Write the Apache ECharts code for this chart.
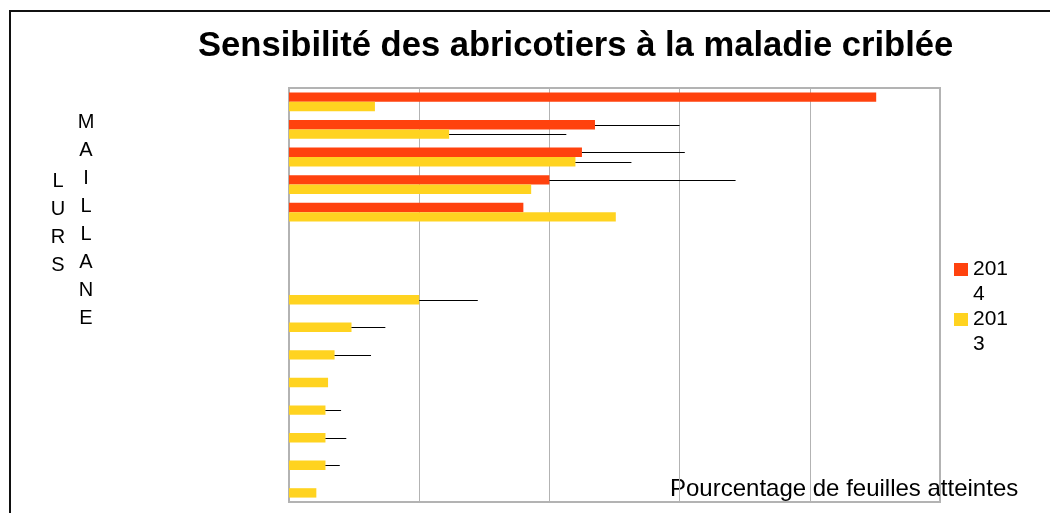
<!DOCTYPE html>
<html>
<head>
<meta charset="utf-8">
<script src="https://cdn.jsdelivr.net/npm/echarts@6/dist/echarts.min.js"></script>
<style>
  html, body { margin: 0; padding: 0; background: #fff; }
  #chart { width: 1050px; height: 513px; }
</style>
</head>
<body>
<div id="chart"></div>
<script>
// rows from top to bottom (variety names are not shown on the chart)
const categories = ['v1', 'v2', 'v3', 'v4', 'v5', 'v6', 'v7', 'v8', 'v9', 'v10', 'v11', 'v12', 'v13', 'v14', 'v15']
const values2014 = [45.1, 23.5, 22.5, 20.0, 18.0, null, null, null, null, null, null, null, null, null, null]
const values2013 = [6.6, 12.3, 22.0, 18.6, 25.1, null, null, 10.0, 4.8, 3.5, 3.0, 2.8, 2.8, 2.8, 2.1]
const errors2014 = [null, 6.5, 7.9, 14.3, null, null, null, null, null, null, null, null, null, null, null]
const errors2013 = [null, 9.0, 4.3, null, null, null, null, 4.5, 2.6, 2.8, null, 1.2, 1.6, 1.1, null]
const seriesNames = ['2014', '2013']
const leftLabels = ['LURS', 'MAILLANE']

const FONT = "'Liberation Sans', Arial, sans-serif"
const BAR_RATIO = 0.34

const chart = echarts.init(document.getElementById('chart'))

// thin black line from the end of the bar, drawn through the axes
const errorBars = (name, values, errors, side) => ({
  name: name,
  type: 'custom',
  z: 3,
  silent: true,
  encode: { x: 1, y: 0 },
  data: values
    .map((v, i) => [i, v, errors[i]])
    .filter(d => d[1] != null && d[2] != null),
  renderItem: (params, api) => {
    const start = api.coord([api.value(1), api.value(0)])
    const end = api.coord([api.value(1) + api.value(2), api.value(0)])
    const offset = side * api.size([0, 1])[1] * BAR_RATIO / 2
    const y = Math.round(start[1] + offset) + 0.5
    return {
      type: 'line',
      shape: { x1: start[0], y1: y, x2: end[0], y2: y },
      style: { stroke: '#000', lineWidth: 1 }
    }
  }
})

const verticalText = (word, x, y) => ({
  type: 'text',
  x: x,
  y: y,
  style: {
    text: word.split('').join('\n'),
    font: '20px ' + FONT,
    lineHeight: 28.1,
    fill: '#000',
    align: 'center',
    verticalAlign: 'top'
  }
})

const option = {
  animation: false,
  title: {
    text: 'Sensibilité des abricotiers à la maladie criblée',
    left: 198,
    top: 29,
    padding: 0,
    textStyle: { fontFamily: FONT, fontSize: 34.6, fontWeight: 'bold', color: '#000' }
  },
  legend: {
    orient: 'vertical',
    left: 954,
    top: 232,
    padding: 0,
    itemWidth: 14,
    itemHeight: 13,
    itemGap: -25,
    icon: 'rect',
    data: seriesNames,
    // the legend text wraps after three characters in the original
    formatter: name => '\n' + name.slice(0, 3) + '\n' + name.slice(3),
    textStyle: { fontFamily: FONT, fontSize: 21, lineHeight: 25, color: '#000' }
  },
  grid: {
    left: 289,
    right: 110,
    top: 88,
    bottom: 11,
    show: true,
    borderColor: '#b3b3b3',
    borderWidth: 2
  },
  xAxis: {
    type: 'value',
    min: 0,
    max: 50,
    interval: 10,
    axisLabel: { show: false },
    axisTick: { show: false },
    axisLine: { show: false },
    splitLine: { lineStyle: { color: '#b3b3b3', width: 1 } }
  },
  yAxis: {
    type: 'category',
    inverse: true,
    data: categories,
    axisLabel: { show: false },
    axisTick: { show: false },
    axisLine: { show: false }
  },
  series: [
    {
      name: seriesNames[0],
      type: 'bar',
      data: values2014,
      barWidth: BAR_RATIO * 100 + '%',
      barGap: '0%',
      itemStyle: { color: '#ff420e' }
    },
    {
      name: seriesNames[1],
      type: 'bar',
      data: values2013,
      barWidth: BAR_RATIO * 100 + '%',
      barGap: '0%',
      itemStyle: { color: '#ffd320' }
    },
    errorBars('err2014', values2014, errors2014, -1),
    errorBars('err2013', values2013, errors2013, 1)
  ],
  graphic: [
    {
      type: 'rect',
      silent: true,
      shape: { x: 10, y: 11, width: 1200, height: 700 },
      style: { fill: 'none', stroke: '#111', lineWidth: 2 }
    },
    verticalText(leftLabels[0], 58, 167),
    verticalText(leftLabels[1], 86, 108),
    {
      type: 'text',
      x: 670,
      y: 477,
      style: {
        text: 'Pourcentage de feuilles atteintes',
        font: '24px ' + FONT,
        fill: '#000',
        verticalAlign: 'top'
      }
    }
  ]
}

chart.setOption(option)
window.addEventListener('resize', () => chart.resize())
</script>
</body>
</html>
